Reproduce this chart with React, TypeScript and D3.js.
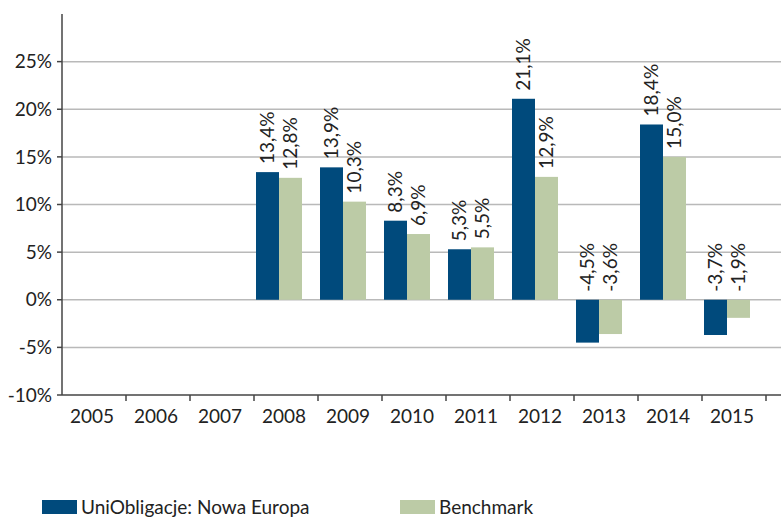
import React, { useEffect, useRef } from 'react';
import * as d3 from 'd3';

const years = ['2005', '2006', '2007', '2008', '2009', '2010', '2011', '2012', '2013', '2014', '2015'];
const fund: (number | null)[] = [null, null, null, 13.4, 13.9, 8.3, 5.3, 21.1, -4.5, 18.4, -3.7];
const bench: (number | null)[] = [null, null, null, 12.8, 10.3, 6.9, 5.5, 12.9, -3.6, 15.0, -1.9];
const seriesNames = ['UniObligacje: Nowa Europa', 'Benchmark'];
const yTicks = [-10, -5, 0, 5, 10, 15, 20, 25];

const colors = ['#004a7c', '#bccba6'];
const FONT = 'Lato, "Open Sans", sans-serif';

const App = () => {
  const ref = useRef<SVGSVGElement>(null);

  useEffect(() => {
    const svg = d3.select(ref.current);
    svg.selectAll('*').remove();

    const W = 781;
    const left = 62;
    const right = 766;

    const x = d3.scaleBand<string>().domain(years).range([left, right]).padding(0);
    const inner = d3.scaleBand<string>().domain(['0', '1']).range([2, 48]).padding(0);
    const y = d3.scaleLinear().domain([-10, 30]).range([395, 14]);

    // grid lines
    svg.append('g')
      .selectAll('line')
      .data(yTicks.filter(t => t > -10))
      .join('line')
      .attr('x1', left)
      .attr('x2', W)
      .attr('y1', d => y(d))
      .attr('y2', d => y(d))
      .attr('stroke', '#b9b9b9')
      .attr('stroke-width', 1.5);

    // bars
    const series = [fund, bench];
    series.forEach((vals, si) => {
      const rows = years.map((yr, i) => ({ yr, v: vals[i] })).filter(d => d.v !== null) as { yr: string; v: number }[];
      const g = svg.append('g');
      g.selectAll('rect')
        .data(rows)
        .join('rect')
        .attr('x', d => (x(d.yr) as number) + (inner(String(si)) as number))
        .attr('width', inner.bandwidth())
        .attr('y', d => Math.min(y(d.v), y(0)))
        .attr('height', d => Math.abs(y(d.v) - y(0)))
        .attr('fill', colors[si]);

      g.selectAll('text')
        .data(rows)
        .join('text')
        .attr('transform', d => {
          const cx = (x(d.yr) as number) + (inner(String(si)) as number) + inner.bandwidth() / 2;
          const cy = Math.min(y(d.v), y(0)) - 8;
          return `translate(${cx},${cy}) rotate(-90)`;
        })
        .attr('dy', '0.35em')
        .attr('font-family', FONT)
        .attr('font-size', 19)
        .attr('fill', '#222')
        .text(d => d.v.toFixed(1).replace('.', ',') + '%');
    });

    // y axis
    svg.append('line')
      .attr('x1', left).attr('x2', left)
      .attr('y1', 14).attr('y2', 395)
      .attr('stroke', '#444').attr('stroke-width', 1.5);
    const yg = svg.append('g');
    yg.selectAll('line')
      .data(yTicks)
      .join('line')
      .attr('x1', left - 5).attr('x2', left)
      .attr('y1', d => y(d)).attr('y2', d => y(d))
      .attr('stroke', '#444').attr('stroke-width', 1.5);
    yg.selectAll('text')
      .data(yTicks)
      .join('text')
      .attr('x', 52)
      .attr('y', d => y(d))
      .attr('dy', '0.35em')
      .attr('text-anchor', 'end')
      .attr('font-family', FONT)
      .attr('font-size', 19)
      .attr('fill', '#222')
      .text(d => `${d}%`);

    // x axis
    svg.append('line')
      .attr('x1', left).attr('x2', W)
      .attr('y1', y(-10)).attr('y2', y(-10))
      .attr('stroke', '#444').attr('stroke-width', 1.5);
    const xg = svg.append('g');
    xg.selectAll('line')
      .data(years)
      .join('line')
      .attr('x1', d => (x(d) as number) + x.bandwidth())
      .attr('x2', d => (x(d) as number) + x.bandwidth())
      .attr('y1', y(-10)).attr('y2', y(-10) + 6)
      .attr('stroke', '#444').attr('stroke-width', 1.5);
    xg.selectAll('text')
      .data(years)
      .join('text')
      .attr('x', d => (x(d) as number) + x.bandwidth() / 2 - 2)
      .attr('y', 423)
      .attr('text-anchor', 'middle')
      .attr('font-family', FONT)
      .attr('font-size', 19)
      .attr('fill', '#222')
      .text(d => d);

    // legend
    const legendX = [42, 400];
    seriesNames.forEach((name, i) => {
      svg.append('rect')
        .attr('x', legendX[i]).attr('y', 500)
        .attr('width', 35).attr('height', 14)
        .attr('fill', colors[i]);
      svg.append('text')
        .attr('x', legendX[i] + 39).attr('y', 514)
        .attr('font-family', FONT)
        .attr('font-size', 19)
        .attr('fill', '#222')
        .text(name);
    });
  }, []);

  return (
    <svg
      ref={ref}
      width={781}
      height={517}
      style={{ position: 'absolute', left: 0, top: 0, background: '#fff' }}
    />
  );
};

export default App;
